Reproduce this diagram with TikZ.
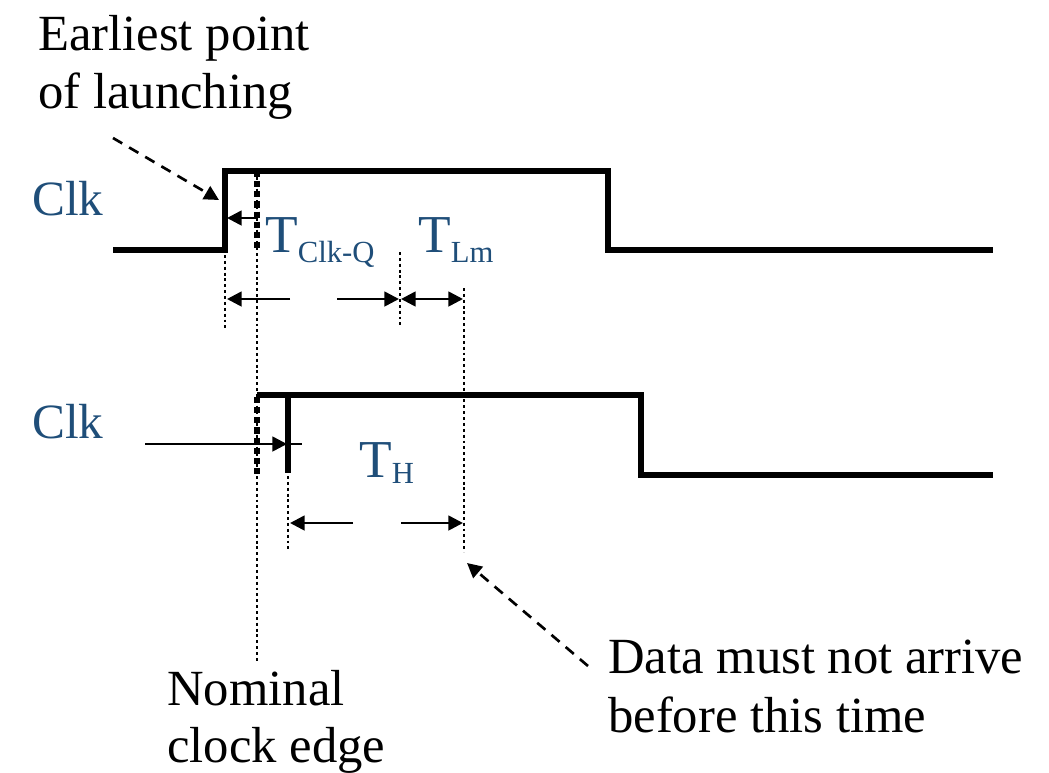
\documentclass[tikz,border=0pt]{standalone}
\usepackage{fontspec}
\setmainfont{Liberation Serif}
\usetikzlibrary{arrows.meta}
\definecolor{clkblue}{RGB}{31,78,121}
\begin{document}
\begin{tikzpicture}[x=0.75pt,y=-0.75pt,
  sig/.style={line width=3.9pt, line join=miter},
  guide/.style={line width=2pt, dash pattern=on 2.2pt off 2.2pt},
  thickdot/.style={line width=4.6pt, dash pattern=on 4.6pt off 3pt},
  tip/.tip={Triangle[length=11pt,width=11pt]},
  dimarrow/.style={line width=2pt, -tip},
  callout/.style={line width=2pt, dash pattern=on 8pt off 6pt, -tip},
  lbl/.style={inner sep=0pt, anchor=base west, font=\fontsize{38}{44}\selectfont},
  sym/.style={inner sep=0pt, anchor=base west, text=clkblue},
]
\useasboundingbox (0,0) rectangle (1049,772);

% ---- texts ----
\node[lbl] (e1) at (38,50) {Earliest point};
\node[lbl] (e2) at (38,108) {of launching};
\node[sym, font=\fontsize{37}{44}\selectfont] (clk1) at (32,215) {Clk};
\node[sym, font=\fontsize{37}{44}\selectfont] (clk2) at (32,438) {Clk};
\node[sym] (tcq) at (265,252) {\fontsize{40}{44}\selectfont T\fontsize{23}{26}\selectfont\raisebox{-7.5pt}{Clk-Q}};
\node[sym] (tlm) at (418,252) {\fontsize{40}{44}\selectfont T\fontsize{23}{26}\selectfont\raisebox{-7.5pt}{Lm}};
\node[sym] (th) at (359,477) {\fontsize{40}{44}\selectfont T\fontsize{23}{26}\selectfont\raisebox{-4.5pt}{H}};
\node[lbl] (n1) at (167,705) {Nominal};
\node[lbl] (n2) at (167,762) {clock edge};
\node[lbl] (d1) at (608,673) {Data must not arrive};
\node[lbl] (d2) at (608,732) {before this time};

% ---- coordinates ----
\coordinate (nomtop) at (257,171);
\coordinate (nombot) at (257,663);
\coordinate (nomA) at (257,218);
\coordinate (dashA) at (113,138);
\coordinate (dashAend) at (219,200);
\coordinate (dashB) at (588,666);
\coordinate (dashBend) at (467,563);

% ---- guide lines ----
\draw[guide] (nomtop) -- (nombot);
\draw[thickdot] (257,171) -- (257,250);
\draw[thickdot] (257,397) -- (257,476);
\draw[guide] (225,255) -- (225,328);
\draw[guide] (400,252) -- (400,325);
\draw[guide] (464,288) -- (464,552);
\draw[guide] (288,476) -- (288,552);

% ---- top clock ----
\draw[sig] (113,250) -- (225,250) -- (225,171) -- (608,171) -- (608,250) -- (993,250);
% ---- bottom clock ----
\draw[sig] (257,395) -- (641,395) -- (641,475) -- (993,475);
\draw[line width=3.9pt] (288,395) -- (288,473);

% ---- arrows ----
\draw[dimarrow] (nomA) -- (227,218);
\draw[line width=2pt] (145,444) -- (302,444);
\draw[dimarrow] (265,444) -- (287,444);

\draw[dimarrow] (290,299) -- (227,299);
\draw[dimarrow] (337,299) -- (399,299);
\draw[line width=2pt, tip-tip] (401,299) -- (463,299);

\draw[dimarrow] (353,523) -- (290,523);
\draw[dimarrow] (401,523) -- (463,523);

% ---- callouts ----
\draw[callout] (dashA) -- (dashAend);
\draw[callout] (dashB) -- (dashBend);
\end{tikzpicture}
\end{document}
